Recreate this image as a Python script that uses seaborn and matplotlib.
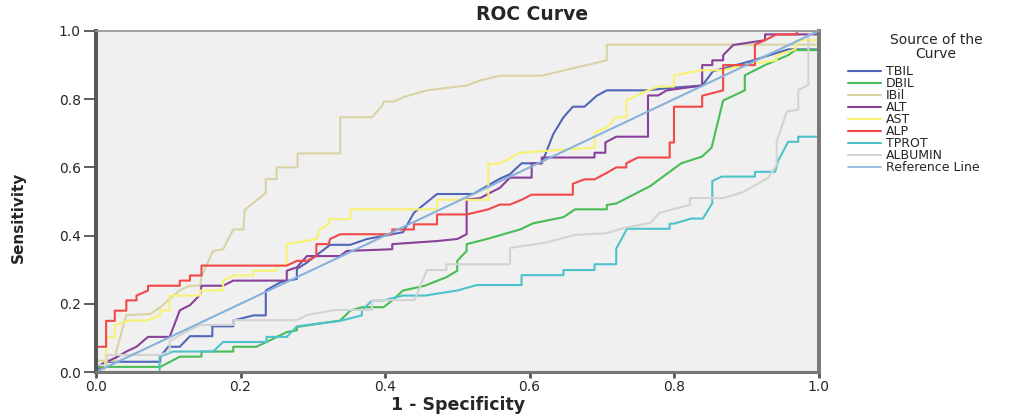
# ROC curves for the liver-function markers, redrawn with seaborn
import pandas as pd
import matplotlib
matplotlib.use("Agg")
import matplotlib.pyplot as plt
import seaborn as sns

# ── Data ─────────────────────────────────────────────────────────
tbil_x = [0, 0.015, 0.089, 0.089, 0.1, 0.116, 0.13, 0.161, 0.161, 0.19, 0.19, 0.218, 0.235, 0.235, 0.255,
          0.278, 0.278, 0.292, 0.324, 0.352, 0.375, 0.41, 0.425, 0.44, 0.472, 0.522, 0.559, 0.573, 0.589,
          0.617, 0.633, 0.647, 0.66, 0.676, 0.693, 0.707, 0.762, 0.8, 0.839, 0.854, 0.905, 0.958, 1.0, 1.0]
tbil_y = [0, 0.03, 0.03, 0.045, 0.074, 0.074, 0.105, 0.105, 0.134, 0.134, 0.151, 0.166, 0.166, 0.239, 0.263,
          0.273, 0.302, 0.321, 0.373, 0.373, 0.39, 0.404, 0.41, 0.467, 0.522, 0.522, 0.567, 0.58, 0.612,
          0.612, 0.698, 0.747, 0.778, 0.778, 0.81, 0.826, 0.826, 0.834, 0.84, 0.882, 0.911, 0.946, 0.946, 1.0]

dbil_x = [0, 0, 0.089, 0.116, 0.146, 0.146, 0.19, 0.19, 0.222, 0.236, 0.264, 0.278, 0.278, 0.338, 0.352,
          0.368, 0.398, 0.41, 0.425, 0.455, 0.485, 0.5, 0.5, 0.513, 0.513, 0.541, 0.587, 0.605, 0.647,
          0.663, 0.707, 0.707, 0.72, 0.767, 0.81, 0.839, 0.852, 0.868, 0.898, 0.898, 0.926, 0.958, 0.968, 1.0]
dbil_y = [0, 0.015, 0.015, 0.045, 0.045, 0.06, 0.06, 0.074, 0.074, 0.088, 0.117, 0.122, 0.132, 0.151, 0.18,
          0.19, 0.19, 0.21, 0.239, 0.253, 0.278, 0.297, 0.326, 0.355, 0.375, 0.39, 0.418, 0.436, 0.454,
          0.477, 0.477, 0.49, 0.494, 0.545, 0.612, 0.632, 0.658, 0.796, 0.826, 0.87, 0.9, 0.929, 0.944, 0.944]

ibil_x = [0, 0, 0.028, 0.028, 0.042, 0.075, 0.089, 0.116, 0.13, 0.144, 0.146, 0.162, 0.176, 0.19, 0.204,
          0.206, 0.235, 0.235, 0.25, 0.25, 0.279, 0.279, 0.338, 0.338, 0.382, 0.396, 0.398, 0.412, 0.428,
          0.458, 0.513, 0.532, 0.559, 0.617, 0.707, 0.707, 1.0, 1.0]
ibil_y = [0, 0.033, 0.033, 0.06, 0.167, 0.17, 0.19, 0.24, 0.253, 0.253, 0.28, 0.355, 0.36, 0.418, 0.418,
          0.476, 0.525, 0.566, 0.566, 0.6, 0.6, 0.641, 0.641, 0.747, 0.747, 0.78, 0.793, 0.793, 0.808,
          0.826, 0.84, 0.855, 0.869, 0.869, 0.914, 0.96, 0.96, 1.0]

alt_x = [0, 0, 0.015, 0.03, 0.042, 0.056, 0.072, 0.102, 0.116, 0.13, 0.144, 0.146, 0.176, 0.19, 0.264,
         0.264, 0.278, 0.292, 0.338, 0.347, 0.41, 0.41, 0.472, 0.5, 0.513, 0.513, 0.532, 0.545, 0.559,
         0.573, 0.603, 0.603, 0.617, 0.617, 0.69, 0.69, 0.705, 0.705, 0.72, 0.764, 0.764, 0.778, 0.79,
         0.839, 0.839, 0.853, 0.853, 0.868, 0.868, 0.882, 0.926, 0.926, 1.0]
alt_y = [0, 0.015, 0.03, 0.045, 0.06, 0.074, 0.103, 0.103, 0.181, 0.196, 0.226, 0.253, 0.253, 0.268, 0.268,
         0.297, 0.307, 0.34, 0.34, 0.355, 0.36, 0.375, 0.384, 0.39, 0.404, 0.506, 0.51, 0.525, 0.54,
         0.57, 0.57, 0.612, 0.612, 0.629, 0.629, 0.643, 0.643, 0.673, 0.69, 0.69, 0.811, 0.811, 0.826,
         0.84, 0.9, 0.9, 0.914, 0.914, 0.929, 0.959, 0.973, 0.99, 0.99]

ast_x = [0, 0.012, 0.015, 0.026, 0.026, 0.045, 0.07, 0.089, 0.089, 0.102, 0.102, 0.144, 0.144, 0.176, 0.176,
         0.19, 0.218, 0.218, 0.25, 0.25, 0.264, 0.264, 0.305, 0.31, 0.322, 0.322, 0.352, 0.352, 0.472,
         0.472, 0.543, 0.543, 0.559, 0.587, 0.69, 0.69, 0.707, 0.72, 0.734, 0.734, 0.764, 0.778, 0.8, 0.8,
         0.839, 0.868, 0.896, 0.942, 0.942, 0.968, 0.97, 1.0]
ast_y = [0, 0, 0.103, 0.103, 0.137, 0.151, 0.151, 0.166, 0.18, 0.18, 0.224, 0.224, 0.239, 0.239, 0.268,
         0.283, 0.283, 0.297, 0.297, 0.312, 0.312, 0.375, 0.39, 0.418, 0.433, 0.448, 0.448, 0.477, 0.477,
         0.505, 0.505, 0.611, 0.611, 0.643, 0.658, 0.702, 0.717, 0.747, 0.747, 0.796, 0.826, 0.837, 0.837,
         0.87, 0.885, 0.885, 0.9, 0.914, 0.929, 0.946, 0.973, 0.973]

alp_x = [0, 0, 0.014, 0.014, 0.026, 0.026, 0.042, 0.042, 0.056, 0.056, 0.072, 0.072, 0.116, 0.116, 0.13,
         0.13, 0.146, 0.146, 0.264, 0.278, 0.292, 0.305, 0.305, 0.322, 0.324, 0.338, 0.41, 0.41, 0.44,
         0.44, 0.472, 0.472, 0.513, 0.543, 0.559, 0.573, 0.589, 0.603, 0.66, 0.66, 0.676, 0.69, 0.707,
         0.72, 0.734, 0.734, 0.75, 0.794, 0.794, 0.8, 0.8, 0.839, 0.839, 0.868, 0.868, 0.912, 0.912,
         0.926, 0.942, 0.97, 0.97, 1.0]
alp_y = [0, 0.074, 0.074, 0.15, 0.15, 0.18, 0.18, 0.21, 0.21, 0.224, 0.239, 0.253, 0.253, 0.268, 0.268,
         0.283, 0.283, 0.312, 0.312, 0.326, 0.326, 0.34, 0.375, 0.375, 0.39, 0.404, 0.404, 0.418, 0.418,
         0.433, 0.433, 0.462, 0.462, 0.477, 0.491, 0.491, 0.505, 0.52, 0.52, 0.552, 0.565, 0.565, 0.584,
         0.6, 0.6, 0.612, 0.629, 0.629, 0.673, 0.673, 0.778, 0.778, 0.81, 0.826, 0.9, 0.9, 0.96,
         0.973, 0.99, 0.99, 1.0, 1.0]

tprot_x = [0, 0.088, 0.088, 0.107, 0.162, 0.176, 0.236, 0.236, 0.264, 0.278, 0.338, 0.368, 0.368, 0.382,
           0.398, 0.425, 0.455, 0.5, 0.527, 0.589, 0.589, 0.647, 0.647, 0.69, 0.69, 0.72, 0.72, 0.735,
           0.794, 0.794, 0.8, 0.824, 0.84, 0.853, 0.853, 0.866, 0.912, 0.912, 0.94, 0.944, 0.958, 0.972,
           0.972, 1.0, 1.0]
tprot_y = [0, 0, 0.045, 0.06, 0.06, 0.088, 0.088, 0.103, 0.103, 0.134, 0.15, 0.166, 0.18, 0.21,
           0.21, 0.224, 0.224, 0.239, 0.255, 0.255, 0.284, 0.284, 0.299, 0.299, 0.316, 0.316, 0.362, 0.42,
           0.42, 0.435, 0.435, 0.45, 0.45, 0.495, 0.56, 0.573, 0.573, 0.587, 0.587, 0.619, 0.675, 0.675,
           0.69, 0.69, 1.0]

albumin_x = [0, 0, 0.015, 0.015, 0.089, 0.102, 0.102, 0.116, 0.144, 0.19, 0.19, 0.278, 0.292, 0.331,
             0.382, 0.382, 0.441, 0.458, 0.485, 0.485, 0.573, 0.573, 0.619, 0.663, 0.707, 0.73, 0.767,
             0.78, 0.794, 0.822, 0.822, 0.868, 0.896, 0.93, 0.942, 0.942, 0.956, 0.972, 0.972, 0.986,
             0.986, 1.0]
albumin_y = [0, 0.02, 0.02, 0.05, 0.05, 0.06, 0.09, 0.108, 0.138, 0.138, 0.152, 0.152, 0.167, 0.182,
             0.182, 0.211, 0.211, 0.299, 0.299, 0.316, 0.316, 0.364, 0.378, 0.402, 0.407, 0.422, 0.437,
             0.466, 0.475, 0.49, 0.51, 0.51, 0.528, 0.569, 0.607, 0.675, 0.763, 0.77, 0.827, 0.842,
             0.988, 1.0]

ref_x = [0, 1]
ref_y = [0, 1]

labels = ["TBIL", "DBIL", "IBil", "ALT", "AST", "ALP", "TPROT", "ALBUMIN", "Reference Line"]
xs = [tbil_x, dbil_x, ibil_x, alt_x, ast_x, alp_x, tprot_x, albumin_x, ref_x]
ys = [tbil_y, dbil_y, ibil_y, alt_y, ast_y, alp_y, tprot_y, albumin_y, ref_y]

COLORS = {"TBIL": "#5266b8", "DBIL": "#48bd55", "IBil": "#d9d3a3", "ALT": "#88409a",
          "AST": "#f7f272", "ALP": "#f24848", "TPROT": "#4cc3ca", "ALBUMIN": "#d3d3d3",
          "Reference Line": "#86b1dc"}

# ── Long table for seaborn ───────────────────────────────────────
rows = []
for lab, x, y in zip(labels, xs, ys):
    for i, (a, b) in enumerate(zip(x, y)):
        rows.append({"curve": lab, "order": i, "fpr": a, "tpr": b})
df = pd.DataFrame(rows)

sns.set_style("white")
plt.rcParams["font.family"] = ["DejaVu Sans"]

fig = plt.figure(figsize=(10.32, 4.15), dpi=100)
ax = fig.add_axes([96 / 1032, 43 / 415, 722.5 / 1032, 341 / 415])
ax.set_facecolor("#f0f0f0")

sns.lineplot(data=df, x="fpr", y="tpr", hue="curve", hue_order=labels, palette=COLORS,
             sort=False, estimator=None, units="curve", linewidth=1.5, ax=ax)
for ln in ax.lines:
    if ln.get_label() == "Reference Line":
        ln.set_linewidth(1.2)

ax.set_xlim(0, 1); ax.set_ylim(0, 1)
ax.set_xticks([0, 0.2, 0.4, 0.6, 0.8, 1.0])
ax.set_yticks([0, 0.2, 0.4, 0.6, 0.8, 1.0])
ax.xaxis.set_major_formatter(matplotlib.ticker.FormatStrFormatter("%.1f"))
ax.yaxis.set_major_formatter(matplotlib.ticker.FormatStrFormatter("%.1f"))
ax.tick_params(axis="y", length=9, width=1.2, color="#444444", labelsize=10, pad=2, left=True)
ax.tick_params(axis="x", length=4, width=2, color="#555555", labelsize=10, pad=2, bottom=True)

for side, (lw, c) in {"left": (2.8, "#555555"), "bottom": (2.2, "#777777"),
                      "right": (2.8, "#777777"), "top": (1.3, "#999999")}.items():
    ax.spines[side].set_visible(True)
    ax.spines[side].set_linewidth(lw)
    ax.spines[side].set_color(c)

ax.set_xlabel(""); ax.set_ylabel("")
fig.text(458 / 1032, 10 / 415, "1 - Specificity", ha="center", va="center",
         fontsize=12.5, fontweight="bold")
fig.text(18 / 1032, 198 / 415, "Sensitivity", ha="center", va="center", rotation=90,
         fontsize=11, fontweight="bold")
fig.text(532 / 1032, 400 / 415, "ROC Curve", ha="center", va="center",
         fontsize=13.5, fontweight="bold")

# legend: title as its own text, entries below it
fig.text(936 / 1032, (415 - 46.5) / 415, "Source of the\nCurve", ha="center", va="center",
         multialignment="center", linespacing=1.0, fontsize=10)
handles, labs = ax.get_legend_handles_labels()
ax.legend(handles, labs, frameon=False, fontsize=9, loc="upper left",
          bbox_to_anchor=(848 / 1032, (415 - 65) / 415), bbox_transform=fig.transFigure,
          handlelength=2.6, handletextpad=0.4, labelspacing=-0.08, borderpad=0, borderaxespad=0)

fig.savefig("out.png", dpi=100)
